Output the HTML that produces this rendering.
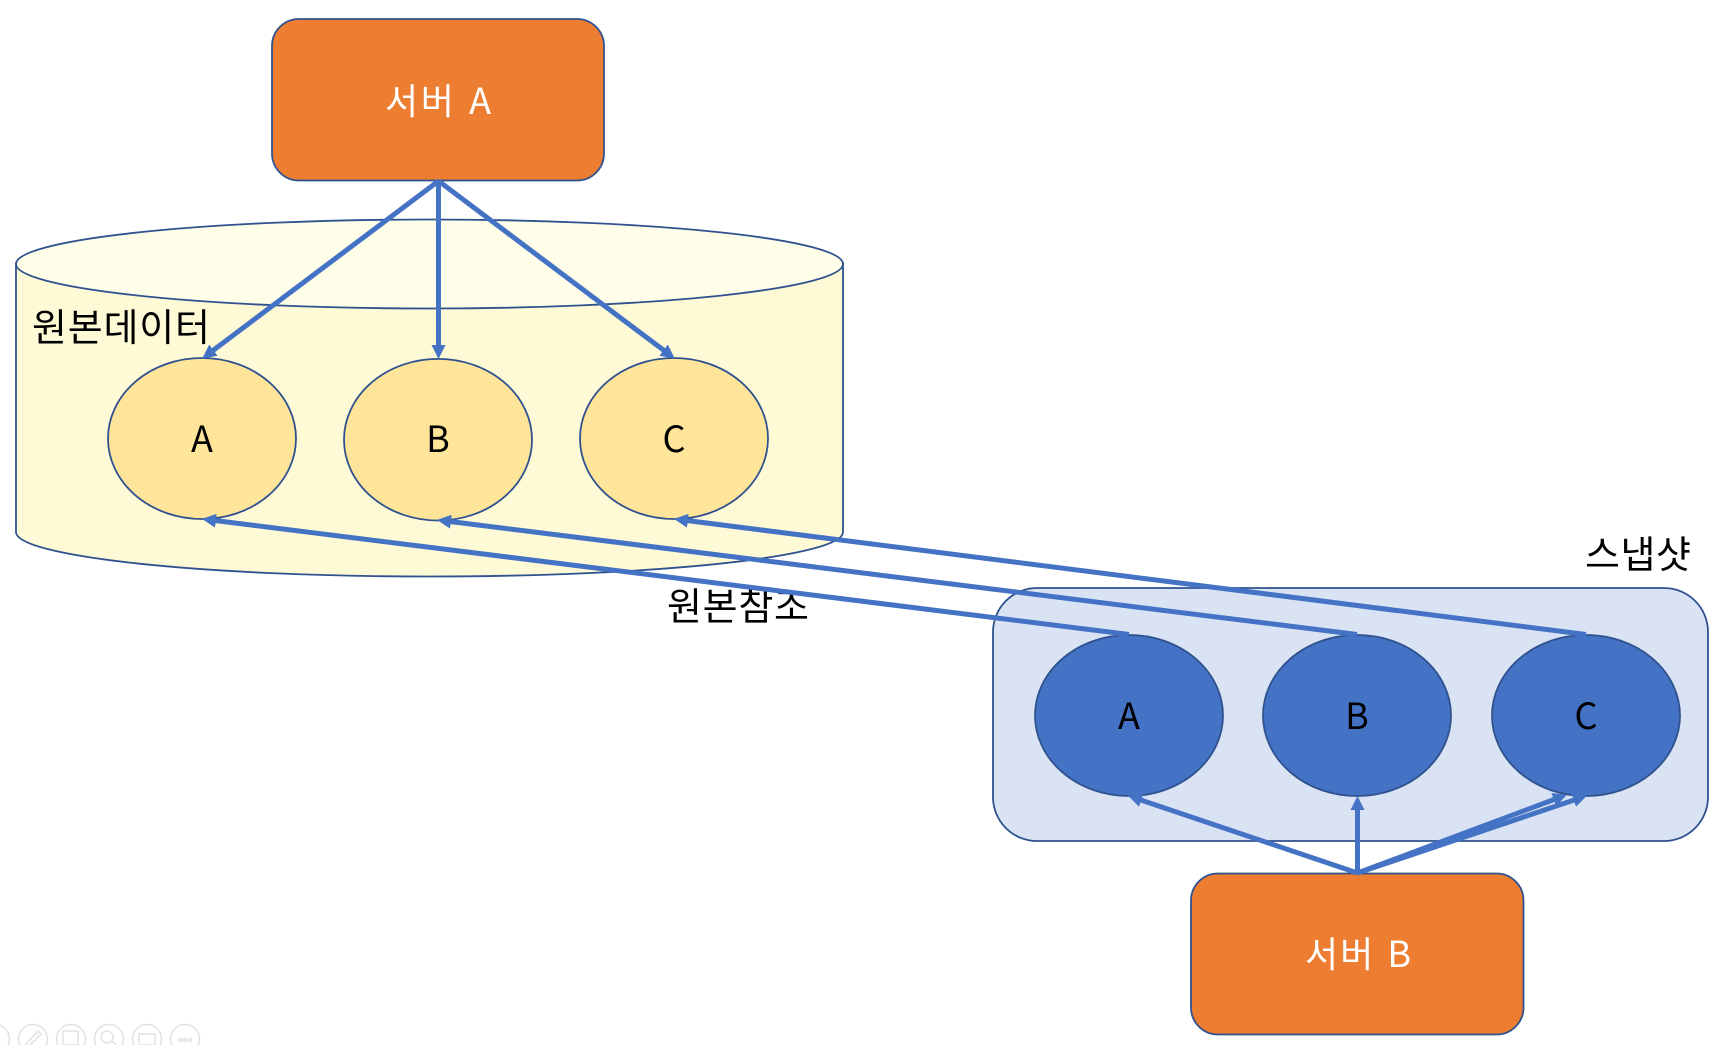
<!DOCTYPE html>
<html lang="ko">
<head>
<meta charset="utf-8">
<style>
html,body{margin:0;padding:0;background:#fff;width:1725px;height:1045px;overflow:hidden}
svg{display:block}
text{font-family:"Noto Sans CJK KR","NanumGothic",sans-serif;font-weight:400}
</style>
</head>
<body>
<svg width="1725" height="1045" viewBox="0 0 1725 1045" xmlns="http://www.w3.org/2000/svg">
<defs>
<marker id="h" markerUnits="userSpaceOnUse" markerWidth="16" markerHeight="18" refX="2" refY="9" orient="auto">
<polygon points="0,2 14,9 0,16" fill="#4472C4"/>
</marker>
</defs>

<!-- cylinder -->
<path d="M16 263.5 V532 C16 556.5 201 576.5 429.500 576.500 C658 576.500 843 556.500 843 532 V263.500 Z" fill="#FFFAD6" stroke="#2F528F" stroke-width="1.8"/>
<ellipse cx="429.500" cy="264" rx="413.500" ry="44.500" fill="#FFFEE8" stroke="#2F528F" stroke-width="1.8"/>

<!-- server A -->
<rect x="272" y="19" width="332" height="161.500" rx="27" ry="27" fill="#ED7D31" stroke="#2F528F" stroke-width="1.8"/>
<text x="438" y="114" font-size="36" fill="#fff" text-anchor="middle" textLength="106">서버 A</text>

<!-- source ellipses -->
<ellipse cx="202" cy="438.500" rx="94" ry="80.500" fill="#FFE599" stroke="#2F528F" stroke-width="1.8"/>
<ellipse cx="438" cy="439.700" rx="94" ry="80.800" fill="#FFE599" stroke="#2F528F" stroke-width="1.8"/>
<ellipse cx="674" cy="438.500" rx="94" ry="80.500" fill="#FFE599" stroke="#2F528F" stroke-width="1.8"/>
<text x="202" y="452" font-size="36" fill="#000" text-anchor="middle">A</text>
<text x="438" y="452" font-size="36" fill="#000" text-anchor="middle">B</text>
<text x="674" y="452" font-size="36" fill="#000" text-anchor="middle">C</text>
<text x="32" y="341" font-size="38" fill="#000" textLength="178">원본데이터</text>

<!-- snapshot container -->
<rect x="993" y="588" width="715" height="253" rx="44" ry="44" fill="#DAE3F3" stroke="#2F528F" stroke-width="1.8"/>
<ellipse cx="1129" cy="715.500" rx="94" ry="80.500" fill="#4472C4" stroke="#2F528F" stroke-width="1.8"/>
<ellipse cx="1357" cy="715.500" rx="94" ry="80.500" fill="#4472C4" stroke="#2F528F" stroke-width="1.8"/>
<ellipse cx="1586" cy="715.500" rx="94" ry="80.500" fill="#4472C4" stroke="#2F528F" stroke-width="1.8"/>
<text x="1129" y="729" font-size="36" fill="#000" text-anchor="middle">A</text>
<text x="1357" y="729" font-size="36" fill="#000" text-anchor="middle">B</text>
<text x="1586" y="729" font-size="36" fill="#000" text-anchor="middle">C</text>
<text x="1585" y="568" font-size="38" fill="#000" textLength="106">스냅샷</text>
<text x="667" y="620" font-size="38" fill="#000" textLength="142">원본참조</text>

<!-- server B -->
<rect x="1191" y="873.500" width="332.500" height="161" rx="27" ry="27" fill="#ED7D31" stroke="#2F528F" stroke-width="1.8"/>
<text x="1358" y="967" font-size="36" fill="#fff" text-anchor="middle" textLength="106">서버 B</text>

<!-- connectors -->
<g stroke="#4472C4" stroke-width="5" fill="none" marker-end="url(#h)">
<line x1="438.500" y1="181" x2="211.800" y2="351.400"/>
<line x1="438.500" y1="181" x2="438.500" y2="347"/>
<line x1="438.500" y1="181" x2="665.200" y2="351.400"/>
<line x1="1129" y1="634.500" x2="213.900" y2="520.400"/>
<line x1="1357" y1="634.500" x2="448.900" y2="521.400"/>
<line x1="1586" y1="634.500" x2="685.900" y2="520.400"/>
<line x1="1357.500" y1="873" x2="1139.400" y2="799.500"/>
<line x1="1357.500" y1="873" x2="1357.500" y2="808"/>
<line x1="1357.500" y1="873" x2="1575.600" y2="799.500"/>
<line x1="1357.500" y1="873" x2="1555.700" y2="798.900"/>
</g>

<!-- faint presentation toolbar -->
<g fill="none" stroke="#E2E2E2" stroke-width="1.500">
<circle cx="-5" cy="1039" r="14.500"/>
<circle cx="33" cy="1039" r="14.500"/>
<circle cx="71" cy="1039" r="14.500"/>
<circle cx="109" cy="1039" r="14.500"/>
<circle cx="147" cy="1039" r="14.500"/>
<circle cx="185" cy="1039" r="14.500"/>
<path d="M25 1045 L38 1031 L41 1034 L30 1045"/>
<rect x="63" y="1031" width="15" height="14"/>
<circle cx="107" cy="1037" r="6"/>
<path d="M111 1041 L117 1045"/>
<rect x="139" y="1034" width="16" height="11"/>
<circle cx="180" cy="1040" r="1.500"/>
<circle cx="185" cy="1040" r="1.500"/>
<circle cx="190" cy="1040" r="1.500"/>
</g>
</svg>
</body>
</html>
